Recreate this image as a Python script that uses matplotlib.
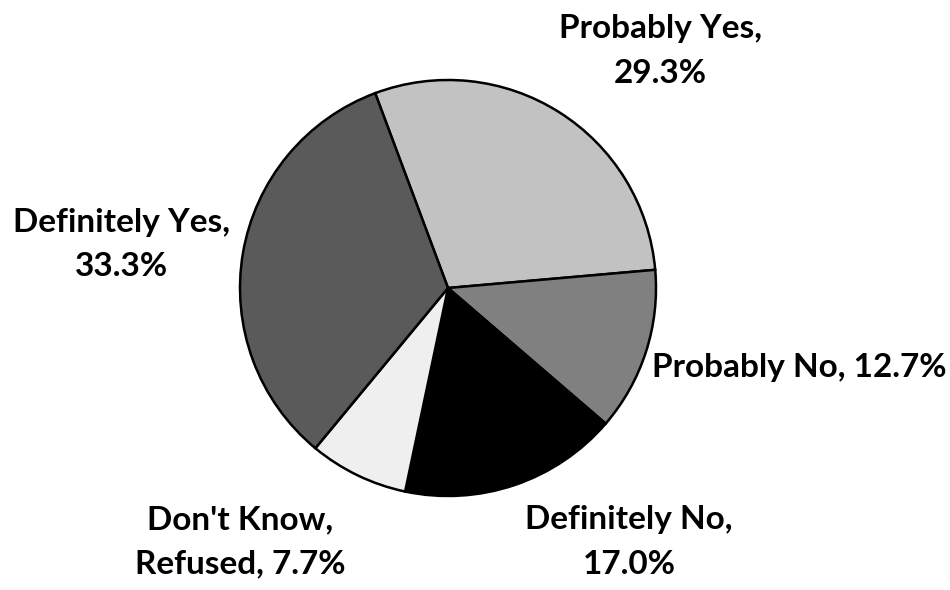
import matplotlib
matplotlib.use("Agg")
import matplotlib.pyplot as plt

plt.rcParams['font.family'] = ['Lato', 'DejaVu Sans']

# data (clockwise from the top-left boundary)
labels = ['Probably Yes,\n29.3%', 'Probably No, 12.7%', 'Definitely No,\n17.0%',
          "Don't Know,\nRefused, 7.7%", 'Definitely Yes,\n33.3%']
shares = [29.3, 12.7, 17.0, 7.7, 33.3]

colors = ['#c2c2c2', '#808080', '#000000', '#efefef', '#5a5a5a']
# label centres, in pie radii from the centre
label_pos = [(1.02, 1.14), (1.69, -0.38), (0.87, -1.22), (-1.0, -1.22), (-1.57, 0.21)]

fig = plt.figure(figsize=(9.5, 5.9), dpi=100)
ax = fig.add_axes([240 / 950, 1 - 496 / 590, 416 / 950, 416 / 590])

wedges, _ = ax.pie(shares, colors=colors, startangle=110.5, counterclock=False,
                   radius=1, wedgeprops={'edgecolor': 'black', 'linewidth': 1.8})
ax.set_xlim(-1, 1)
ax.set_ylim(-1, 1)
ax.set_aspect('equal')

for lab, (x, y) in zip(labels, label_pos):
    ax.text(x, y, lab, ha='center', va='center', fontsize=24, fontweight='bold',
            linespacing=1.65, color='black')

fig.savefig('out.png', dpi=100, facecolor='white')
